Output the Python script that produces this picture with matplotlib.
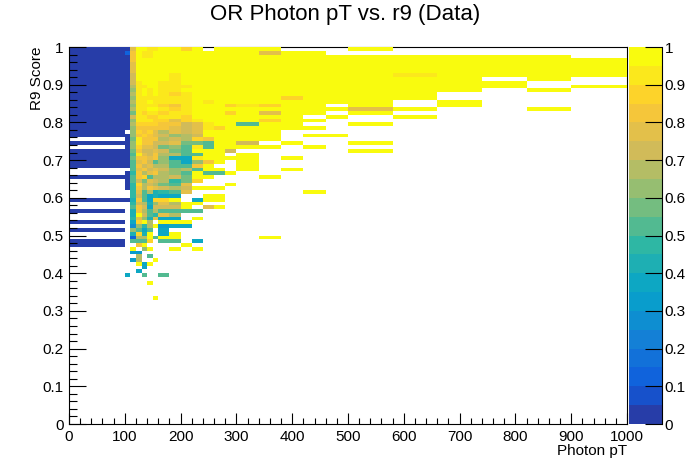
import numpy as np
import matplotlib
matplotlib.use('Agg')
import matplotlib.pyplot as plt
from matplotlib.colors import ListedColormap, BoundaryNorm, LinearSegmentedColormap
from matplotlib.ticker import MultipleLocator, FuncFormatter

plt.rcParams['font.family'] = ['Liberation Sans', 'DejaVu Sans']

# ---------- data ----------

# photon pT bin edges (variable binning)
pt_edges = [0, 100, 110, 120, 130, 140, 150, 160, 180, 200, 220, 240, 260, 280,
            300, 320, 340, 380, 420, 460, 500, 580, 660, 740, 820, 900, 1000]
# r9 bins, 0.01 wide
r9_edges = np.linspace(0, 1, 101)

# efficiency level per cell, one string per r9 row, top row (0.99-1.00) first
# '0'..'9','A'..'J' = 0.05 wide efficiency levels (0.025 ... 0.975), '.' = empty
eff_levels = "0123456789ABCDEFGHIJ"
eff_rows = [
    "00F" "JJIIJJHJ.JJJJ" "J...J.....",   # 0.99
    "02G" "JIIJJJJJJJJJJ" "FJJ.......",   # 0.98
    "00G" "JIIJJJJJJJJJJ" "JJJJJJJJJ.",   # 0.97
    "00G" "JJJJJJJJJJJJJ" "JJJJJJJJJJ",   # 0.96
    "00F" "JJJJJJJJJJJJJ" "JJJJJJJJJJ",   # 0.95
    "00F" "JJJJJJJJJJJJJ" "JJJJJJJJJJ",   # 0.94
    "00F" "JJJJJJJJJJJJJ" "JJJJJJJJJJ",   # 0.93
    "00E" "JJJJJIJJJJJJJ" "JJJJJIJJJJ",   # 0.92
    "00E" "JJJJJIJJJJJJJ" "JJJJJJJ.J.",   # 0.91
    "00E" "IJJJIIJJJJJJJ" "JJJJJJJJ..",   # 0.90
    "00D" "IIJJIIIJJJJJJ" "JJJJJJJJ.J",   # 0.89
    "00C" "IJIJIIJJJJJJJ" "JJJJJJJ.J.",   # 0.88
    "00D" "IJIJIHIJJJJJJ" "JJJJJJ....",   # 0.87
    "00C" "IIIIIIIJJJJJJ" "JHJJJJ....",   # 0.86
    "00D" "IIJIIIIJIJJJJ" "JJJJJ.J...",   # 0.85
    "00C" "IIIIHGIJJJHII" "HJJ.J.J...",   # 0.84
    "00D" "IIJJIHIJJJJJJ" "JJJJFJ..J.",   # 0.83
    "00B" "IHIIHIIJJJHJJ" "FJJ.J.....",   # 0.82
    "00E" "IIHHIIHJJJJJJ" "JJ.J.J....",   # 0.81
    "00C" "IIIHHFHIJJJJJ" "HJJ.......",   # 0.80
    "00D" "HHHHGGEFIJJAA" "JJ..J.....",   # 0.79
    "00C" "GGGGGFEFIHJJJ" "JJJ.......",   # 0.78
    "0.C" "HGHFDFEFJJJJJ" "J.........",   # 0.77
    "00C" "GHGFECDEJJJJJ" "J.JJ......",   # 0.76
    ".0B" "IGGGDEDHGJJJJ" "J.........",   # 0.75
    "00C" "IGGEEFBBAJJEE" ".J..J.....",   # 0.74
    ".0C" "HFFEBCAIAJJJJ" "J.J.......",   # 0.73
    "00B" "GEEFEBAJJJE.." "....J.....",   # 0.72
    "00A" "IFEGDDAAJJ.JJ" "..........",   # 0.71
    "00B" "GGFGC77IJJJJJ" ".J........",   # 0.70
    "00A" "FGEACA7CGJ.JJ" "..........",   # 0.69
    "00A" "GEFDDAAGJ..JJ" "..........",   # 0.68
    "..A" "FGEFECDAJJ.JJ" ".J........",   # 0.67
    ".09" "GDFGDCAJAAJ.." "..........",   # 0.66
    "00A" "GHADDEBJJ...." "J.........",   # 0.65
    ".0A" "EBFED9BH....." "..........",   # 0.64
    ".09" "HDEDBAF...J.." "..........",   # 0.63
    ".09" "GDGFEDEJJJ..." "..........",   # 0.62
    "..9" "FAD89AF......" "..J.......",   # 0.61
    "..9" "EA7877..JJ..." "..........",   # 0.60
    "008" "GA7HHJ.7JJ..." "..........",   # 0.59
    "..9" "ED8CFDJJ....." "..........",   # 0.58
    "..A" "GE7EEEJ.FJ..." "..........",   # 0.57
    "0.8" "GDADAAAA....." "..........",   # 0.56
    "..8" "JEA9FD......." "..........",   # 0.55
    "..9" "FC8F77.J....." "..........",   # 0.54
    "0.7" "HJD.JJJ......" "..........",   # 0.53
    "..5" "C9DJ677......" "..........",   # 0.52
    "0.C" "A7A.7........" "..........",   # 0.51
    "..8" "H8J.7J......." "..........",   # 0.50
    "..2" "DDJAJJ......." "J.........",   # 0.49
    "0.A" "AAH.AA.7....." "..........",   # 0.48
    "0.." "GJ....J......" "..........",   # 0.47
    "..J" ".CJ..J.J....." "..........",   # 0.46
    "..6" "6............" "..........",   # 0.45
    "..." "D.A.........." "..........",   # 0.44
    "..6" "D..J........." "..........",   # 0.43
    "..." "J7J.........." "..........",   # 0.42
    "..." ".7..........." "..........",   # 0.41
    "..." "7............" "..........",   # 0.40
    ".7." ".A..A........" "..........",   # 0.39
    "..." "............." "..........",   # 0.38
    "..." "..J.........." "..........",   # 0.37
    "..." "............." "..........",   # 0.36
    "..." "............." "..........",   # 0.35
    "..." "............." "..........",   # 0.34
    "..." "...J........." "..........",   # 0.33
]

# ---------- build histogram ----------

eff = np.full((len(r9_edges) - 1, len(pt_edges) - 1), np.nan)
for k, row in enumerate(eff_rows):
    j = 99 - k
    for i, ch in enumerate(row):
        if ch != '.':
            eff[j, i] = (eff_levels.index(ch) + 0.5) / 20.
eff = np.ma.masked_invalid(eff)

# ROOT kBird palette, 20 contours
stops = [0.0, 0.125, 0.25, 0.375, 0.5, 0.625, 0.75, 0.875, 1.0]
red = [0.2082, 0.0592, 0.0780, 0.0232, 0.1802, 0.5301, 0.8186, 0.9956, 0.9764]
green = [0.1664, 0.3599, 0.5041, 0.6419, 0.7178, 0.7492, 0.7328, 0.7862, 0.9832]
blue = [0.5293, 0.8684, 0.8385, 0.7914, 0.6425, 0.4662, 0.3499, 0.1968, 0.0539]
bird = LinearSegmentedColormap.from_list(
    'bird', list(zip(stops, zip(red, green, blue))), N=255)
ncont = 20
cols = [bird(int((i + 0.99) * 255 / ncont) / 254.) for i in range(ncont)]
cmap = ListedColormap(cols)
norm = BoundaryNorm(np.linspace(0, 1, ncont + 1), ncont)

# ---------- plot ----------

W, H = 696, 472
fig = plt.figure(figsize=(W / 100, H / 100), dpi=100)
ax = fig.add_axes([69 / W, 1 - 424 / H, (627 - 69) / W, (424 - 47) / H])
mesh = ax.pcolormesh(pt_edges, r9_edges, eff, cmap=cmap, norm=norm,
                     antialiased=False, linewidth=0, zorder=1)
ax.set_xlim(0, 1000)
ax.set_ylim(0, 1)
for s in ['top', 'right']:
    ax.spines[s].set_zorder(0.5)
for s in ax.spines.values():
    s.set_linewidth(0.8)

ax.xaxis.set_major_locator(MultipleLocator(100))
ax.xaxis.set_minor_locator(MultipleLocator(20))
ax.yaxis.set_major_locator(MultipleLocator(0.1))
ax.yaxis.set_minor_locator(MultipleLocator(0.02))
fmt = FuncFormatter(lambda v, p: '%g' % round(v, 3))
ax.xaxis.set_major_formatter(fmt)
ax.yaxis.set_major_formatter(fmt)
ax.tick_params(axis='x', which='major', direction='in', length=8, width=0.8,
               labelsize=11, pad=4, top=False)
ax.tick_params(axis='x', which='minor', direction='in', length=4, width=0.8, top=False)
ax.tick_params(axis='y', which='major', direction='in', length=12, width=0.8,
               labelsize=11, pad=4, right=False)
ax.tick_params(axis='y', which='minor', direction='in', length=6, width=0.8, right=False)

# colour scale
cax = fig.add_axes([629 / W, 1 - 424 / H, 33 / W, (424 - 47) / H])
cb = fig.colorbar(mesh, cax=cax, ticks=np.arange(0, 1.01, 0.1))
cb.outline.set_visible(False)
cax.yaxis.set_major_formatter(fmt)
cax.minorticks_off()
cax.tick_params(axis='y', direction='in', length=12, width=0.8, labelsize=11, pad=2)
cax.plot([1, 1], [0, 1], color='k', lw=0.8, transform=cax.transAxes, clip_on=False)

fig.text(0.496, 1 - 4 / H, 'OR Photon pT vs. r9 (Data)', ha='center', va='top', fontsize=16)
fig.text(627 / W, 1 - 444 / H, 'Photon pT', ha='right', va='top', fontsize=11)
fig.text(37 / W, 1 - 46 / H, 'R9 Score', ha='center', va='top', rotation=90, fontsize=11)

fig.savefig('out.png', dpi=100)
